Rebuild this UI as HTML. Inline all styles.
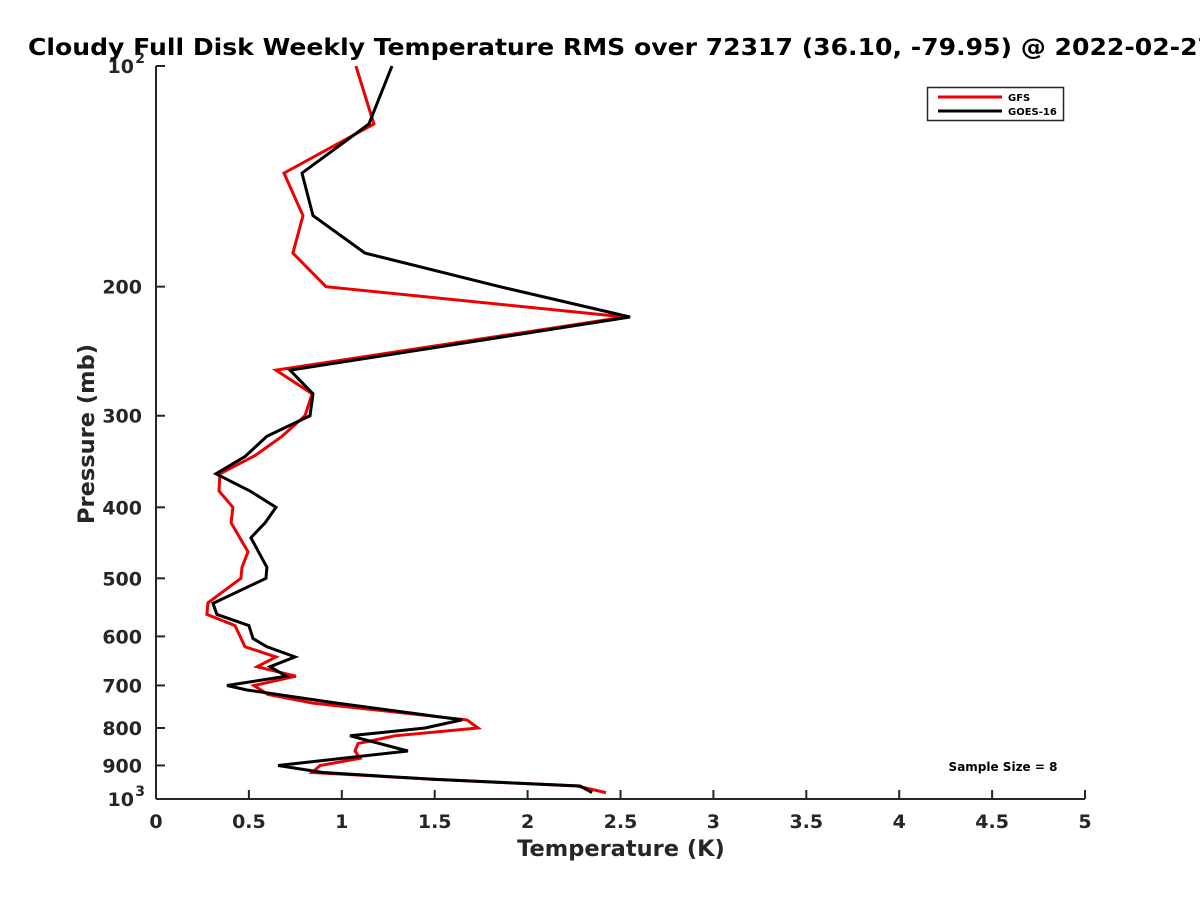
<!DOCTYPE html>
<html><head><meta charset="utf-8"><style>
html,body{margin:0;padding:0;background:#fff;}
svg{display:block;font-family:"DejaVu Sans","Liberation Sans",sans-serif;}
</style></head><body>
<svg id="chart" width="1200" height="900" viewBox="0 0 1200 900">
<rect width="1200" height="900" fill="#fff"/>
<text x="28" y="55" font-size="23" font-weight="bold" fill="#000" textLength="1187" lengthAdjust="spacingAndGlyphs">Cloudy Full Disk Weekly Temperature RMS over 72317 (36.10, -79.95) @ 2022-02-27</text>
<g id="axes"></g>
<g id="series"></g>
<text x="621" y="856" font-size="22.5" font-weight="bold" fill="#262626" text-anchor="middle">Temperature (K)</text>
<text transform="translate(94,434) rotate(-90)" font-size="22.5" font-weight="bold" fill="#262626" text-anchor="middle">Pressure (mb)</text>
<g>
<rect x="927.5" y="87.5" width="136" height="33" fill="#fff" stroke="#262626" stroke-width="1.5"/>
<line x1="938" y1="97" x2="1002" y2="97" stroke="#e00" stroke-width="3"/>
<text x="1008" y="101" font-size="10" font-weight="bold" fill="#000">GFS</text>
<line x1="938" y1="111" x2="1002" y2="111" stroke="#000" stroke-width="3"/>
<text x="1008" y="115" font-size="10" font-weight="bold" fill="#000">GOES-16</text>
</g>
<text x="1003" y="771" font-size="12" font-weight="bold" fill="#000" text-anchor="middle">Sample Size = 8</text>
</svg>
<script>
const xTicks = [0,0.5,1,1.5,2,2.5,3,3.5,4,4.5,5];
const xTickLabels = ["0","0.5","1","1.5","2","2.5","3","3.5","4","4.5","5"];
const yTicks = [100,200,300,400,500,600,700,800,900,1000];
const yTickLabels = ["10^2","200","300","400","500","600","700","800","900","10^3"];
const gfsPressure = [100,120,140,160,180,200,220,260,280,300,320,340,360,380,400,420,460,483,500,540,560,580,620,640,660,680,700,720,740,780,800,820,840,860,880,900,920,940,960,980];
const gfsTemp = [1.076,1.173,0.689,0.791,0.737,0.915,2.524,0.646,0.84,0.802,0.678,0.533,0.344,0.339,0.414,0.404,0.495,0.463,0.457,0.28,0.274,0.425,0.479,0.646,0.544,0.753,0.527,0.603,0.845,1.674,1.733,1.286,1.087,1.071,1.098,0.883,0.84,1.491,2.266,2.422];
const goesPressure = [100,120,140,160,180,200,220,260,280,300,320,341,360,380,400,420,440,483,500,541,560,580,604,620,640,660,680,700,710,740,780,800,820,860,900,920,940,960,980];
const goesTemp = [1.27,1.146,0.786,0.845,1.125,1.851,2.551,0.721,0.845,0.829,0.597,0.479,0.323,0.506,0.646,0.587,0.511,0.597,0.592,0.307,0.328,0.50,0.522,0.597,0.748,0.614,0.70,0.382,0.49,0.974,1.647,1.448,1.044,1.356,0.657,0.899,1.491,2.282,2.347];

const X0=156, X1=1085, Y0=66, Y1=799;
const xScale = v => X0 + (v-0)/(5-0)*(X1-X0);
const yScale = p => Y0 + (Math.log10(p)-2)/(3-2)*(Y1-Y0);
const NS="http://www.w3.org/2000/svg";
const axes=document.getElementById('axes');
const series=document.getElementById('series');
function mk(tag,attrs,parent){const e=document.createElementNS(NS,tag);for(const k in attrs)e.setAttribute(k,attrs[k]);parent.appendChild(e);return e;}

const xAxis=mk('line',{x1:X0,y1:Y1,x2:X1,y2:Y1,stroke:'#262626','stroke-width':2},axes);


const yAxis=mk('line',{x1:X0,y1:Y0,x2:X0,y2:Y1,stroke:'#262626','stroke-width':2},axes);



xTicks.forEach((v,i)=>{
  const x=xScale(v);
  const t=mk('line',{x1:x,y1:Y1,x2:x,y2:Y1-9,stroke:'#262626','stroke-width':2},axes);
  
  
  const l=mk('text',{x:x,y:Y1+29,'font-size':19,'font-weight':'bold',fill:'#262626','text-anchor':'middle'},axes);
  l.textContent=xTickLabels[i];
  
  
});
yTicks.forEach((p,i)=>{
  const y=yScale(p);
  const t=mk('line',{x1:X0,y1:y,x2:X0+9,y2:y,stroke:'#262626','stroke-width':2},axes);
  
  
  const lab=yTickLabels[i];
  if(lab.indexOf('^')>=0){
    const parts=lab.split('^');
    const l=mk('text',{x:X0-22,y:y+7,'font-size':19,'font-weight':'bold',fill:'#262626','text-anchor':'end'},axes);
    l.textContent=parts[0];
    
    
    const s=mk('text',{x:X0-11,y:y-3,'font-size':14,'font-weight':'bold',fill:'#262626','text-anchor':'end'},axes);
    s.textContent=parts[1];
    
    
  } else {
    const l=mk('text',{x:X0-14,y:y+7,'font-size':19,'font-weight':'bold',fill:'#262626','text-anchor':'end'},axes);
    l.textContent=lab;
    
    
  }
});

function line(ps,ts,color,name){
  const d=ps.map((p,i)=>(i?'L':'M')+xScale(ts[i]).toFixed(1)+','+yScale(p).toFixed(1)).join(' ');
  const e=mk('path',{d:d,fill:'none',stroke:color,'stroke-width':3,'stroke-linejoin':'miter'},series);
  
  
}
line(gfsPressure,gfsTemp,'#e00','gfs-line');
line(goesPressure,goesTemp,'#000','goes16-line');
</script>
</body></html>
